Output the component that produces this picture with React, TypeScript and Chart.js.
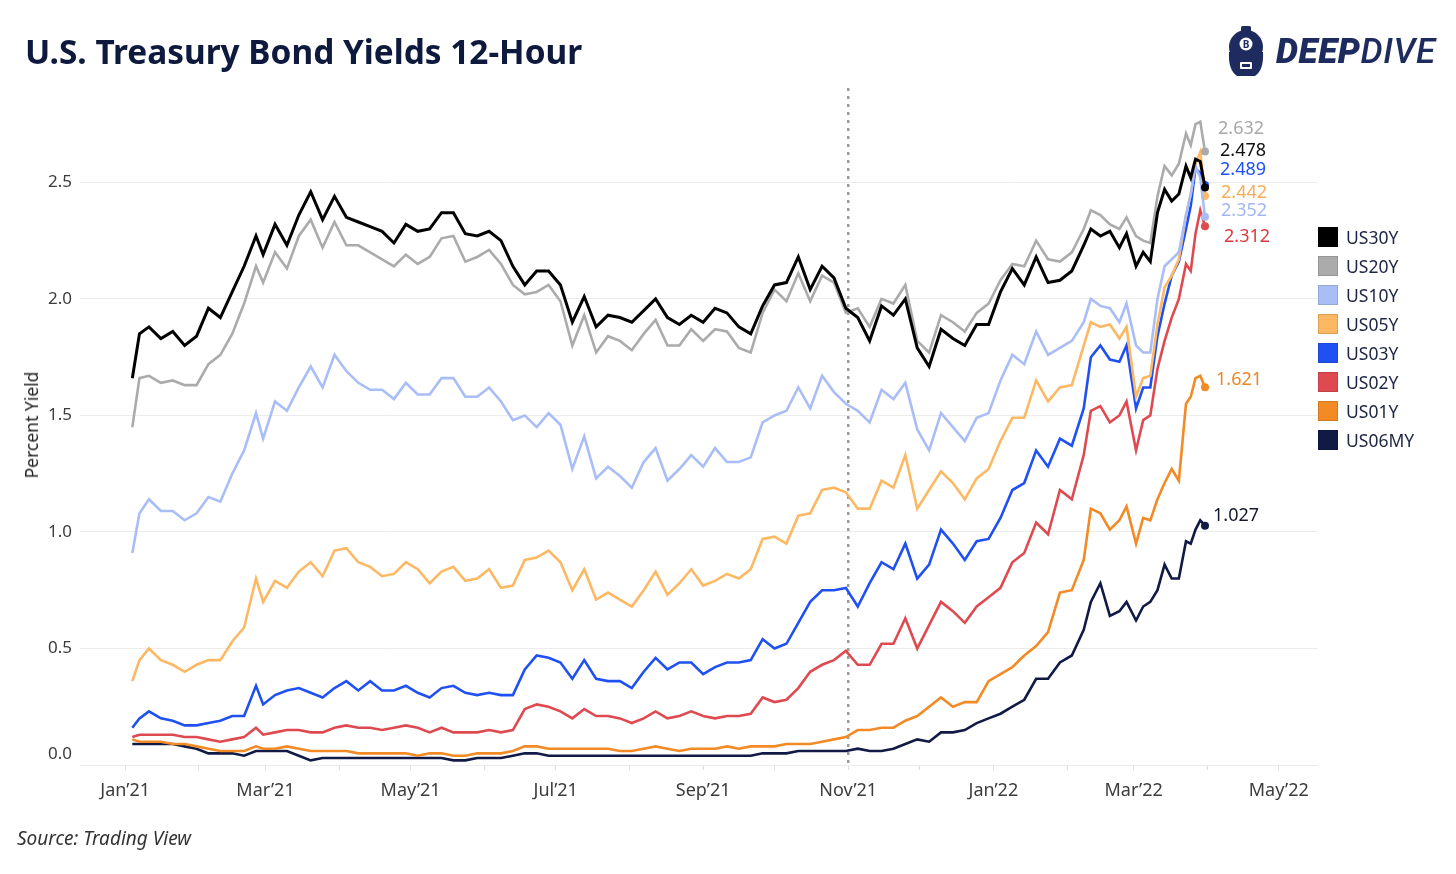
import React, { useEffect, useRef } from "react";
import { Chart, registerables } from "chart.js";

Chart.register(...registerables);

// ---------- data ----------
const dates = [
  "2021-01-04", "2021-01-07", "2021-01-11", "2021-01-16", "2021-01-21", "2021-01-26", "2021-01-31", "2021-02-05", "2021-02-10", "2021-02-15",
  "2021-02-20", "2021-02-25", "2021-02-28", "2021-03-05", "2021-03-10", "2021-03-15", "2021-03-20", "2021-03-25", "2021-03-30", "2021-04-04",
  "2021-04-09", "2021-04-14", "2021-04-19", "2021-04-24", "2021-04-29", "2021-05-04", "2021-05-09", "2021-05-14", "2021-05-19", "2021-05-24",
  "2021-05-29", "2021-06-03", "2021-06-08", "2021-06-13", "2021-06-18", "2021-06-23", "2021-06-28", "2021-07-03", "2021-07-08", "2021-07-13",
  "2021-07-18", "2021-07-23", "2021-07-28", "2021-08-02", "2021-08-07", "2021-08-12", "2021-08-17", "2021-08-22", "2021-08-27", "2021-09-01",
  "2021-09-06", "2021-09-11", "2021-09-16", "2021-09-21", "2021-09-26", "2021-10-01", "2021-10-06", "2021-10-11", "2021-10-16", "2021-10-21",
  "2021-10-26", "2021-10-31", "2021-11-05", "2021-11-10", "2021-11-15", "2021-11-20", "2021-11-25", "2021-11-30", "2021-12-05", "2021-12-10",
  "2021-12-15", "2021-12-20", "2021-12-25", "2021-12-30", "2022-01-04", "2022-01-09", "2022-01-14", "2022-01-19", "2022-01-24", "2022-01-29",
  "2022-02-03", "2022-02-08", "2022-02-11", "2022-02-15", "2022-02-19", "2022-02-23", "2022-02-26", "2022-03-02", "2022-03-05", "2022-03-08",
  "2022-03-11", "2022-03-14", "2022-03-17", "2022-03-20", "2022-03-23", "2022-03-25", "2022-03-27", "2022-03-29", "2022-03-31",
];

const seriesNames = ["US30Y", "US20Y", "US10Y", "US05Y", "US03Y", "US02Y", "US01Y", "US06MY"];

const us30y = [
  1.66, 1.85, 1.88, 1.83, 1.86, 1.80, 1.84, 1.96, 1.92, 2.03,
  2.14, 2.27, 2.19, 2.32, 2.23, 2.36, 2.46, 2.34, 2.44, 2.35,
  2.33, 2.31, 2.29, 2.24, 2.32, 2.29, 2.30, 2.37, 2.37, 2.28,
  2.27, 2.29, 2.25, 2.14, 2.06, 2.12, 2.12, 2.06, 1.90, 2.01,
  1.88, 1.93, 1.92, 1.90, 1.95, 2.00, 1.92, 1.89, 1.93, 1.90,
  1.96, 1.94, 1.88, 1.85, 1.97, 2.06, 2.07, 2.18, 2.04, 2.14,
  2.09, 1.96, 1.92, 1.82, 1.97, 1.93, 2.00, 1.79, 1.71, 1.87,
  1.83, 1.80, 1.89, 1.89, 2.03, 2.13, 2.06, 2.18, 2.07, 2.08,
  2.12, 2.23, 2.30, 2.27, 2.29, 2.22, 2.28, 2.14, 2.20, 2.16,
  2.37, 2.47, 2.42, 2.45, 2.57, 2.52, 2.60, 2.59, 2.478,
];

const us20y = [
  1.45, 1.66, 1.67, 1.64, 1.65, 1.63, 1.63, 1.72, 1.76, 1.85,
  1.98, 2.14, 2.07, 2.20, 2.13, 2.27, 2.34, 2.22, 2.33, 2.23,
  2.23, 2.20, 2.17, 2.14, 2.19, 2.15, 2.18, 2.26, 2.27, 2.16,
  2.18, 2.21, 2.15, 2.06, 2.02, 2.03, 2.06, 1.99, 1.80, 1.93,
  1.77, 1.84, 1.82, 1.78, 1.85, 1.91, 1.80, 1.80, 1.87, 1.82,
  1.87, 1.86, 1.79, 1.77, 1.94, 2.04, 1.99, 2.11, 1.99, 2.10,
  2.07, 1.94, 1.96, 1.88, 2.00, 1.98, 2.06, 1.82, 1.77, 1.93,
  1.90, 1.86, 1.94, 1.98, 2.08, 2.15, 2.14, 2.25, 2.17, 2.16,
  2.20, 2.30, 2.38, 2.36, 2.32, 2.30, 2.35, 2.27, 2.25, 2.24,
  2.44, 2.57, 2.53, 2.58, 2.71, 2.66, 2.75, 2.76, 2.632,
];

const us10y = [
  0.91, 1.08, 1.14, 1.09, 1.09, 1.05, 1.08, 1.15, 1.13, 1.25,
  1.35, 1.51, 1.40, 1.56, 1.52, 1.62, 1.71, 1.62, 1.76, 1.69,
  1.64, 1.61, 1.61, 1.57, 1.64, 1.59, 1.59, 1.66, 1.66, 1.58,
  1.58, 1.62, 1.56, 1.48, 1.50, 1.45, 1.51, 1.46, 1.27, 1.41,
  1.23, 1.28, 1.24, 1.19, 1.30, 1.36, 1.22, 1.27, 1.33, 1.28,
  1.36, 1.30, 1.30, 1.32, 1.47, 1.50, 1.52, 1.62, 1.53, 1.67,
  1.60, 1.55, 1.52, 1.47, 1.61, 1.57, 1.64, 1.44, 1.35, 1.51,
  1.45, 1.39, 1.49, 1.51, 1.65, 1.76, 1.72, 1.86, 1.76, 1.79,
  1.82, 1.90, 2.00, 1.97, 1.96, 1.90, 1.98, 1.80, 1.77, 1.77,
  2.00, 2.14, 2.17, 2.20, 2.36, 2.45, 2.57, 2.52, 2.352,
];

const us05y = [
  0.36, 0.45, 0.50, 0.45, 0.43, 0.40, 0.43, 0.45, 0.45, 0.53,
  0.59, 0.80, 0.70, 0.79, 0.76, 0.83, 0.87, 0.81, 0.92, 0.93,
  0.87, 0.85, 0.81, 0.82, 0.87, 0.84, 0.78, 0.83, 0.85, 0.79,
  0.80, 0.84, 0.76, 0.77, 0.88, 0.89, 0.92, 0.87, 0.75, 0.84,
  0.71, 0.74, 0.71, 0.68, 0.75, 0.83, 0.73, 0.78, 0.84, 0.77,
  0.79, 0.82, 0.80, 0.84, 0.97, 0.98, 0.95, 1.07, 1.08, 1.18,
  1.19, 1.17, 1.10, 1.10, 1.22, 1.19, 1.33, 1.10, 1.18, 1.26,
  1.21, 1.14, 1.23, 1.27, 1.39, 1.49, 1.49, 1.65, 1.56, 1.62,
  1.63, 1.80, 1.90, 1.88, 1.89, 1.83, 1.88, 1.58, 1.66, 1.67,
  1.89, 2.05, 2.10, 2.17, 2.36, 2.45, 2.58, 2.63, 2.442,
];

const us03y = [
  0.16, 0.20, 0.23, 0.20, 0.19, 0.17, 0.17, 0.18, 0.19, 0.21,
  0.21, 0.34, 0.26, 0.30, 0.32, 0.33, 0.31, 0.29, 0.33, 0.36,
  0.32, 0.36, 0.32, 0.32, 0.34, 0.31, 0.29, 0.33, 0.34, 0.31,
  0.30, 0.31, 0.30, 0.30, 0.41, 0.47, 0.46, 0.44, 0.37, 0.45,
  0.37, 0.36, 0.36, 0.33, 0.40, 0.46, 0.41, 0.44, 0.44, 0.39,
  0.42, 0.44, 0.44, 0.45, 0.54, 0.50, 0.52, 0.61, 0.70, 0.75,
  0.75, 0.76, 0.68, 0.78, 0.87, 0.84, 0.95, 0.80, 0.86, 1.01,
  0.95, 0.88, 0.96, 0.97, 1.06, 1.18, 1.21, 1.35, 1.28, 1.40,
  1.37, 1.53, 1.75, 1.80, 1.74, 1.73, 1.80, 1.53, 1.62, 1.62,
  1.84, 1.98, 2.10, 2.16, 2.30, 2.40, 2.56, 2.54, 2.489,
];

const us02y = [
  0.12, 0.13, 0.13, 0.13, 0.13, 0.12, 0.12, 0.11, 0.10, 0.11,
  0.12, 0.16, 0.13, 0.14, 0.15, 0.15, 0.14, 0.14, 0.16, 0.17,
  0.16, 0.16, 0.15, 0.16, 0.17, 0.16, 0.14, 0.16, 0.14, 0.14,
  0.14, 0.15, 0.14, 0.15, 0.24, 0.26, 0.25, 0.23, 0.20, 0.24,
  0.21, 0.21, 0.20, 0.18, 0.20, 0.23, 0.20, 0.21, 0.23, 0.21,
  0.20, 0.21, 0.21, 0.22, 0.29, 0.27, 0.28, 0.33, 0.40, 0.43,
  0.45, 0.49, 0.43, 0.43, 0.52, 0.52, 0.63, 0.50, 0.60, 0.70,
  0.66, 0.61, 0.68, 0.72, 0.76, 0.87, 0.91, 1.04, 0.99, 1.18,
  1.14, 1.33, 1.52, 1.54, 1.47, 1.50, 1.56, 1.35, 1.48, 1.50,
  1.70, 1.82, 1.92, 2.00, 2.15, 2.12, 2.28, 2.38, 2.312,
];

const us01y = [
  0.11, 0.10, 0.10, 0.10, 0.09, 0.09, 0.08, 0.07, 0.06, 0.06,
  0.06, 0.08, 0.07, 0.07, 0.08, 0.07, 0.06, 0.06, 0.06, 0.06,
  0.05, 0.05, 0.05, 0.05, 0.05, 0.04, 0.05, 0.05, 0.04, 0.04,
  0.05, 0.05, 0.05, 0.06, 0.08, 0.08, 0.07, 0.07, 0.07, 0.07,
  0.07, 0.07, 0.06, 0.06, 0.07, 0.08, 0.07, 0.06, 0.07, 0.07,
  0.07, 0.08, 0.07, 0.08, 0.08, 0.08, 0.09, 0.09, 0.09, 0.10,
  0.11, 0.12, 0.15, 0.15, 0.16, 0.16, 0.19, 0.21, 0.25, 0.29,
  0.25, 0.27, 0.27, 0.36, 0.39, 0.42, 0.47, 0.51, 0.57, 0.74,
  0.75, 0.88, 1.10, 1.08, 1.01, 1.05, 1.11, 0.95, 1.06, 1.05,
  1.14, 1.21, 1.27, 1.22, 1.55, 1.58, 1.66, 1.67, 1.621,
];

const us06my = [
  0.09, 0.09, 0.09, 0.09, 0.09, 0.08, 0.07, 0.05, 0.05, 0.05,
  0.04, 0.06, 0.06, 0.06, 0.06, 0.04, 0.02, 0.03, 0.03, 0.03,
  0.03, 0.03, 0.03, 0.03, 0.03, 0.03, 0.03, 0.03, 0.02, 0.02,
  0.03, 0.03, 0.03, 0.04, 0.05, 0.05, 0.04, 0.04, 0.04, 0.04,
  0.04, 0.04, 0.04, 0.04, 0.04, 0.04, 0.04, 0.04, 0.04, 0.04,
  0.04, 0.04, 0.04, 0.04, 0.05, 0.05, 0.05, 0.06, 0.06, 0.06,
  0.06, 0.06, 0.07, 0.06, 0.06, 0.07, 0.09, 0.11, 0.10, 0.14,
  0.14, 0.15, 0.18, 0.20, 0.22, 0.25, 0.28, 0.37, 0.37, 0.44,
  0.47, 0.58, 0.70, 0.78, 0.64, 0.66, 0.70, 0.62, 0.68, 0.70,
  0.75, 0.86, 0.80, 0.80, 0.96, 0.95, 1.01, 1.05, 1.027,
];

const seriesValues = [us30y, us20y, us10y, us05y, us03y, us02y, us01y, us06my];

const xTickDates = [
  "2021-01-01", "2021-02-01", "2021-03-01", "2021-04-01", "2021-05-01", "2021-06-01", "2021-07-01", "2021-08-01", "2021-09-01",
  "2021-10-01", "2021-11-01", "2021-12-01", "2022-01-01", "2022-02-01", "2022-03-01", "2022-04-01", "2022-05-01",
];
const xTickLabels = [
  "Jan\u201921", "", "Mar\u201921", "", "May\u201921", "", "Jul\u201921", "", "Sep\u201921",
  "", "Nov\u201921", "", "Jan\u201922", "", "Mar\u201922", "", "May\u201922",
];
const yTicks = [0, 0.5, 1.0, 1.5, 2.0, 2.5];
const markerDate = "2021-11-01";

// ---------- styles ----------
const lineColors = ["#000000", "#ababab", "#a9bdf6", "#fdb863", "#1f51f2", "#df4a50", "#f28a26", "#101a45"];
const labelColors = ["#111111", "#a8a8a8", "#a2b6f4", "#f7ad55", "#1f51f2", "#d93a40", "#ef8526", "#151a2e"];
const labelDx = [15, 13, 16, 16, 15, 19, 11, 8];
const labelDy = [-37, -23, -6, -3, -15, 11, -7, -10];
const FONT = "'Noto Sans', 'DejaVu Sans', sans-serif";
const NAVY = "#0e1a3d";

const BASE = Date.UTC(2021, 0, 1);
const dayOf = (s: string) => {
  const [y, m, d] = s.split("-").map(Number);
  return (Date.UTC(y, m - 1, d) - BASE) / 86400000;
};

function Logo() {
  return (
    <div style={{ position: "absolute", left: 1224, top: 26, display: "flex", alignItems: "center" }}>
      <svg width="44" height="52" viewBox="0 0 44 52">
        <rect x="17" y="0" width="10" height="6" rx="1.5" fill="#1d2b5e" />
        <circle cx="22" cy="21" r="17" fill="#1d2b5e" />
        <path d="M5 26 Q4 44 13 50 L31 50 Q40 44 39 26 Z" fill="#1d2b5e" />
        <circle cx="22" cy="18" r="6.5" fill="#ffffff" />
        <text x="22" y="22" textAnchor="middle" fontSize="10" fontWeight="700" fill="#1d2b5e" fontFamily={FONT}>B</text>
        <rect x="16" y="36" width="12" height="7" rx="1" fill="#ffffff" />
        <rect x="18" y="38" width="8" height="3" fill="#1d2b5e" />
      </svg>
      <div style={{ marginLeft: 8, fontFamily: "Roboto, 'Noto Sans', sans-serif", fontStyle: "italic", fontSize: 35, color: "#1d2b5e", letterSpacing: 0.6, lineHeight: "38px", whiteSpace: "nowrap" }}>
        <span style={{ fontWeight: 900 }}>DEEP</span>
        <span style={{ fontWeight: 500 }}>DIVE</span>
      </div>
    </div>
  );
}

export default function App() {
  const canvasRef = useRef<HTMLCanvasElement | null>(null);

  useEffect(() => {
    const canvas = canvasRef.current;
    if (!canvas) return;
    const xs = dates.map(dayOf);

    const overlay = {
      id: "overlay",
      beforeDatasetsDraw(chart: any) {
        const { ctx, chartArea, scales } = chart;
        const x = scales.x.getPixelForValue(dayOf(markerDate));
        ctx.save();
        ctx.strokeStyle = "#9b9b9b";
        ctx.lineWidth = 2.5;
        ctx.setLineDash([3, 5]);
        ctx.beginPath();
        ctx.moveTo(x, chartArea.top);
        ctx.lineTo(x, chartArea.bottom);
        ctx.stroke();
        ctx.restore();
        // y tick labels (bottom label kept inside the plot, as in the original)
        ctx.save();
        ctx.font = `17px ${FONT}`;
        ctx.fillStyle = "#3c3c3c";
        ctx.textAlign = "right";
        ctx.textBaseline = "middle";
        yTicks.forEach((v, i) => {
          let y = scales.y.getPixelForValue(v);
          if (i === 0) y -= 11;
          ctx.fillText(v.toFixed(1), chartArea.left - 8, y);
        });
        ctx.restore();
      },
      afterDatasetsDraw(chart: any) {
        const { ctx } = chart;
        ctx.save();
        ctx.font = `18px ${FONT}`;
        ctx.textAlign = "left";
        ctx.textBaseline = "middle";
        seriesValues.forEach((vals, i) => {
          const meta = chart.getDatasetMeta(i);
          const pt = meta.data[meta.data.length - 1];
          if (!pt) return;
          ctx.fillStyle = labelColors[i];
          ctx.fillText(vals[vals.length - 1].toFixed(3), pt.x + labelDx[i], pt.y + labelDy[i]);
        });
        ctx.restore();
      },
    };

    const chart = new Chart(canvas, {
      type: "line",
      data: {
        datasets: seriesValues.map((vals, i) => ({
          label: seriesNames[i],
          data: vals.map((v, j) => ({ x: xs[j], y: v })),
          borderColor: lineColors[i],
          backgroundColor: lineColors[i],
          borderWidth: i === 0 ? 3 : 2.6,
          pointRadius: (c: any) => (c.dataIndex === vals.length - 1 ? 4 : 0),
          pointHoverRadius: 0,
          pointBorderWidth: 0,
          tension: 0,
          fill: false,
        })),
      },
      options: {
        animation: false,
        responsive: false,
        maintainAspectRatio: false,
        events: [],
        layout: { padding: { top: 88, right: 138, left: 0, bottom: 0 } },
        plugins: { legend: { display: false }, tooltip: { enabled: false } },
        scales: {
          x: {
            type: "linear",
            min: -19,
            max: 501.5,
            afterFit: (s: any) => {
              s.height = 109;
            },
            afterBuildTicks: (s: any) => {
              s.ticks = xTickDates.map((d) => ({ value: dayOf(d) }));
            },
            ticks: {
              autoSkip: false,
              maxRotation: 0,
              padding: 10,
              color: "#3c3c3c",
              font: { family: FONT, size: 18 },
              callback: (_v: any, i: number) => xTickLabels[i],
            },
            grid: { drawOnChartArea: false, drawTicks: true, tickLength: 5, color: "#dedede" },
            border: { display: false },
          },
          y: {
            min: 0,
            max: 2.905,
            afterFit: (s: any) => {
              s.width = 80;
            },
            afterBuildTicks: (s: any) => {
              s.ticks = yTicks.map((v) => ({ value: v }));
            },
            ticks: { display: false },
            grid: { color: "#ececec", drawTicks: false, lineWidth: 1 },
            border: { display: false },
          },
        },
      },
      plugins: [overlay],
    } as any);

    return () => chart.destroy();
  }, []);

  return (
    <div style={{ position: "absolute", left: 0, top: 0, width: 1456, height: 874, background: "#ffffff", overflow: "hidden", fontFamily: FONT }}>
      <canvas ref={canvasRef} width={1456} height={874} style={{ position: "absolute", left: 0, top: 0, width: 1456, height: 874 }} />
      <div style={{ position: "absolute", left: 25, top: 31, fontSize: 33.4, lineHeight: "40px", fontWeight: 700, color: NAVY, whiteSpace: "nowrap" }}>
        U.S. Treasury Bond Yields 12-Hour
      </div>
      <Logo />
      <div
        style={{
          position: "absolute",
          left: 31,
          top: 425,
          transform: "translate(-50%, -50%) rotate(-90deg)",
          fontSize: 17.5,
          color: "#222222",
          whiteSpace: "nowrap",
        }}
      >
        Percent Yield
      </div>
      <div style={{ position: "absolute", left: 1318, top: 222 }}>
        {seriesNames.map((n, i) => (
          <div key={n} style={{ display: "flex", alignItems: "center", height: 29 }}>
            <div style={{ width: 20, height: 20, background: lineColors[i], boxShadow: "inset 0 0 0 1px rgba(0,0,0,0.12)" }} />
            <div style={{ marginLeft: 8, fontSize: 17.5, color: "#1c2541" }}>{n}</div>
          </div>
        ))}
      </div>
      <div style={{ position: "absolute", left: 17, top: 825, fontSize: 19, fontStyle: "italic", color: "#333333", whiteSpace: "nowrap" }}>
        Source: Trading View
      </div>
    </div>
  );
}
